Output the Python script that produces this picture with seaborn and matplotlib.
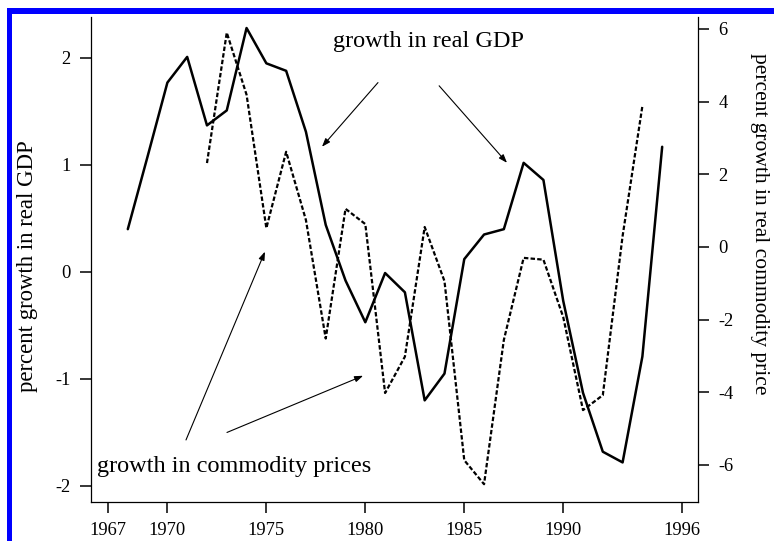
import matplotlib
matplotlib.use("Agg")
import matplotlib.pyplot as plt
from matplotlib.patches import Rectangle
import seaborn as sns
import pandas as pd

gdp_years = list(range(1968, 1996))
gdp_growth = [0.40, 1.08, 1.77, 2.01, 1.37, 1.51, 2.28, 1.95, 1.88, 1.31,
              0.44, -0.08, -0.47, -0.01, -0.19, -1.20, -0.95, 0.12, 0.35, 0.40,
              1.02, 0.86, -0.27, -1.13, -1.68, -1.78, -0.79, 1.17]

comm_years = list(range(1972, 1995))
comm_growth = [2.31, 5.90, 4.19, 0.52, 2.62, 0.74, -2.52, 1.05, 0.63, -4.02,
               -3.02, 0.55, -0.94, -5.87, -6.53, -2.56, -0.30, -0.35, -1.93,
               -4.49, -4.08, 0.30, 3.88]

x_ticks = [1967, 1970, 1975, 1980, 1985, 1990, 1996]
left_ticks = [-2, -1, 0, 1, 2]
right_ticks = [-6, -4, -2, 0, 2, 4, 6]

gdp = pd.DataFrame({"year": gdp_years, "growth": gdp_growth})
comm = pd.DataFrame({"year": comm_years, "growth": comm_growth})

sns.set_style("ticks")
plt.rcParams["font.family"] = ["Liberation Serif", "DejaVu Serif"]
plt.rcParams["axes.unicode_minus"] = False
plt.rcParams["text.color"] = "black"

fig = plt.figure(figsize=(7.74, 5.41), dpi=100)
ax = fig.add_axes([91 / 774, 1 - 502 / 541, 607 / 774, 485 / 541])
ax2 = ax.twinx()

sns.lineplot(data=gdp, x="year", y="growth", ax=ax, color="black", linewidth=1.8)
sns.lineplot(data=comm, x="year", y="growth", ax=ax2, color="black", linewidth=1.6,
             linestyle=(0, (2.0, 1.0)))

ax.set_xlim(1966.14, 1996.81)
ax.set_ylim(-2.15, 2.383)
ax2.set_ylim(-7.02, 6.33)
ax.set_xticks(x_ticks)
ax.set_yticks(left_ticks)
ax2.set_yticks(right_ticks)

for a in (ax, ax2):
    a.spines["top"].set_visible(False)
    for s in a.spines.values():
        s.set_linewidth(0.9)
        s.set_color("black")
    a.tick_params(axis="both", direction="out", length=8, width=1.1,
                  labelsize=13.3, pad=6.5, colors="black")
ax.spines["right"].set_visible(False)
ax2.spines["left"].set_visible(False)
ax2.spines["bottom"].set_visible(False)

ax.set_xlabel("")
ax.set_ylabel("")
ax2.set_ylabel("")
fig.text(28 / 774, 1 - 266 / 541, "percent growth in real GDP", rotation=90,
         ha="center", va="center", fontsize=16.4)
fig.text(759 / 774, 1 - 224 / 541, "percent growth in real commodity price",
         rotation=270, ha="center", va="center", fontsize=15.5)

arrow = dict(arrowstyle="-|>,head_length=0.5,head_width=0.18", color="black",
             linewidth=0.8, shrinkA=0, shrinkB=0)
ax.text(1983.2, 2.15, "growth in real GDP", ha="center", va="center", fontsize=17.5)
ax.annotate("", xy=(1977.81, 1.17), xytext=(1980.64, 1.77), arrowprops=arrow)
ax.annotate("", xy=(1987.16, 1.02), xytext=(1983.73, 1.74), arrowprops=arrow)
ax.text(1966.44, -1.82, "growth in commodity prices", ha="left", va="center",
        fontsize=17.5)
ax.annotate("", xy=(1974.93, 0.19), xytext=(1970.94, -1.57), arrowprops=arrow)
ax.annotate("", xy=(1979.89, -0.97), xytext=(1973.01, -1.50), arrowprops=arrow)

# blue frame on top and left edges
fig.add_artist(Rectangle((7 / 774, 1 - 14 / 541), 1, 6 / 541,
                         transform=fig.transFigure, color="#0000ff", lw=0))
fig.add_artist(Rectangle((7 / 774, 0), 5 / 774, 1 - 8 / 541,
                         transform=fig.transFigure, color="#0000ff", lw=0))

fig.savefig("out.png", dpi=100)
